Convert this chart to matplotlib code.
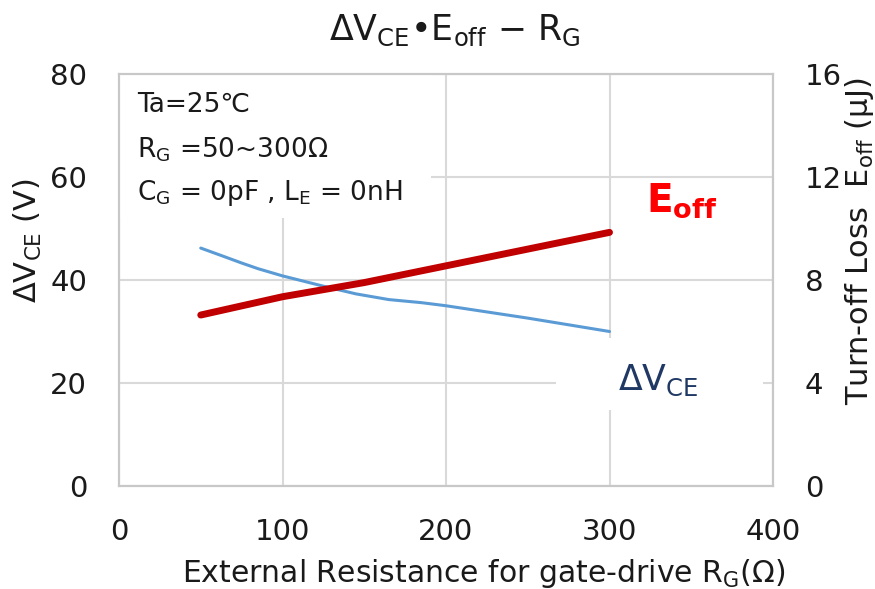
import matplotlib
matplotlib.use("Agg")
import matplotlib.pyplot as plt
from matplotlib.patches import Rectangle

plt.rcParams['font.family'] = ['DejaVu Sans', 'Noto Sans CJK JP']
plt.rcParams['mathtext.fontset'] = 'dejavusans'
plt.rcParams['mathtext.default'] = 'regular'

# Data
rg_dv = [50, 63, 75, 85, 100, 125, 145, 165, 185, 200, 250, 300]
dvce = [46.2, 44.7, 43.3, 42.2, 40.8, 38.8, 37.3, 36.2, 35.6, 35.0, 32.6, 30.0]
rg_e = [50, 100, 150, 200, 250, 300]
eoff = [6.64, 7.35, 7.9, 8.55, 9.2, 9.85]

x_ticks = [0, 100, 200, 300, 400]
y1_ticks = [0, 20, 40, 60, 80]
y2_ticks = [0, 4, 8, 12, 16]

W, H = 875, 589
fig = plt.figure(figsize=(W / 100, H / 100), dpi=100)
ax = fig.add_axes([119 / W, 1 - 486 / H, (773 - 119) / W, (486 - 74) / H])
ax2 = ax.twinx()

grid_c = '#D9D9D9'
spine_c = '#C8C8C8'
txt_c = '#1A1A1A'
ax.set_xlim(0, 400)
ax.set_ylim(0, 80)
ax2.set_ylim(0, 16)
ax.set_xticks(x_ticks)
ax.set_yticks(y1_ticks)
ax2.set_yticks(y2_ticks)
ax.set_axisbelow(True)
ax.grid(True, color=grid_c, lw=1.5)
for a in (ax, ax2):
    for s in a.spines.values():
        s.set_color(spine_c)
        s.set_linewidth(1.5)
    a.tick_params(length=0, labelsize=21, pad=23, colors=txt_c)

# white boxes covering gridlines
ax.add_patch(Rectangle((0, 52), 190.8, 28, facecolor='white', edgecolor='none', zorder=1))
ax.add_patch(Rectangle((267, 14.8), 127, 14, facecolor='white', edgecolor='none', zorder=1))

ax.plot(rg_dv, dvce, color='#5B9BD5', lw=2.2, zorder=3, solid_capstyle='round',
        solid_joinstyle='round')
ax2.plot(rg_e, eoff, color='#C00000', lw=5, zorder=3, solid_capstyle='round',
         solid_joinstyle='round')

# annotation text
fig.text(137 / W, 1 - 105 / H, 'Ta=25℃', fontsize=19, va='center', ha='left', color=txt_c)
fig.text(137 / W, 1 - 150 / H, r'$R_G$ =50~300Ω', fontsize=19, va='center', ha='left', color=txt_c)
fig.text(137 / W, 1 - 193 / H, r'$C_G$ = 0pF , $L_E$ = 0nH', fontsize=19, va='center', ha='left', color=txt_c)

# series labels
fig.text(646 / W, 1 - 212 / H, r'$\mathbf{E_{off}}$', fontsize=28, color='#FF0000',
         ha='left', va='baseline')
fig.text(618 / W, 1 - 390 / H, r'$\Delta V_{CE}$', fontsize=25, color='#1F3864',
         ha='left', va='baseline')

# title and axis labels
fig.text(455 / W, 1 - 30 / H, r'$\Delta V_{CE}$•$E_{off}$ $-$ $R_G$', fontsize=25,
         ha='center', va='center', color=txt_c)
fig.text(28 / W, 1 - 241 / H, r'$\Delta V_{CE}$ (V)', fontsize=22, rotation=90,
         ha='center', va='center', color=txt_c)
fig.text(860 / W, 1 - 241 / H, r'Turn-off Loss  $E_{off}$ (μJ)', fontsize=22, rotation=90,
         ha='center', va='center', color=txt_c)
fig.text(484 / W, 1 - 573 / H, r'External Resistance for gate-drive $R_G$(Ω)', fontsize=21.5,
         ha='center', va='center', color=txt_c)

fig.savefig('out.png', dpi=100)
